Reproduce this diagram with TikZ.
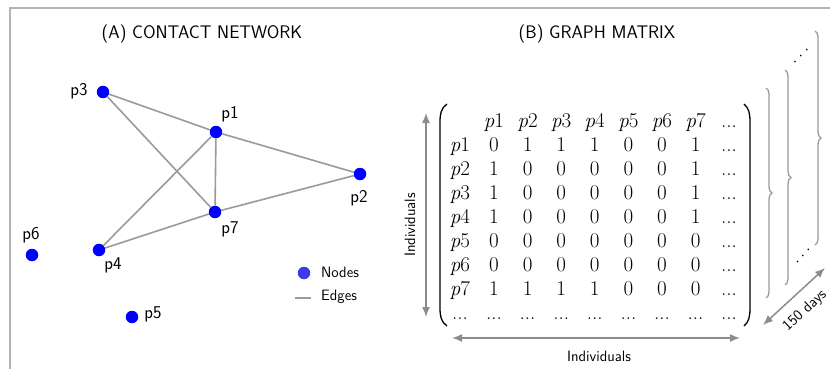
\documentclass[tikz,border=0pt]{standalone}
\usepackage{fontspec}
\usetikzlibrary{arrows.meta,decorations.pathreplacing,calc}
\definecolor{netblue}{HTML}{0000FF}
\definecolor{legblue}{HTML}{3C3CE6}
\definecolor{linkgray}{HTML}{9A9A9A}
\definecolor{framegray}{HTML}{B4B4B4}
\definecolor{arrowgray}{HTML}{8C8C8C}
\definecolor{bracegray}{HTML}{9A9A9A}
\begin{document}
\begin{tikzpicture}[x=1pt,y=-1pt,
  vertex/.style={circle,fill=netblue,inner sep=0pt,minimum size=12.5pt},
  vlabel/.style={font=\sffamily\fontsize{18}{21}\selectfont,inner sep=0pt},
  link/.style={linkgray,line width=1.6pt},
  paneltitle/.style={font=\sffamily\fontsize{18.2}{21}\selectfont,inner sep=0pt},
  smalltext/.style={font=\sffamily\fontsize{15}{18}\selectfont,inner sep=0pt},
  cell/.style={font=\fontsize{21}{25}\selectfont,inner sep=0pt,anchor=base},
  axis/.style={arrowgray,line width=1.5pt,{Latex[length=10pt,width=8pt]}-{Latex[length=10pt,width=8pt]}},
  bigbrace/.style={bracegray,line width=1.3pt,decorate,decoration={brace,amplitude=6pt}},
  paren/.style={black,line width=1.3pt},
  frameline/.style={framegray,line width=1.6pt}]
\useasboundingbox (0,0) rectangle (830,369);

% outer frame
\draw[frameline] (10,369) -- (10,8) -- (830,8);

% panel titles
\node[paneltitle] (titleA) at (202,34) {(A) CONTACT NETWORK};
\node[paneltitle] (titleB) at (597,34) {(B) GRAPH MATRIX};

% ---------- contact network ----------
\node[vertex] (p1) at (216,132) {};
\node[vertex] (p2) at (360,174) {};
\node[vertex] (p3) at (103,92) {};
\node[vertex] (p4) at (99,250) {};
\node[vertex] (p5) at (132,317) {};
\node[vertex] (p6) at (32,255) {};
\node[vertex] (p7) at (215,212) {};

\node[vlabel] (p1-lbl) at ($(p1)+(14,-18)$) {p1};
\node[vlabel] (p2-lbl) at ($(p2)+(-1,24)$) {p2};
\node[vlabel] (p3-lbl) at ($(p3)+(-24,-1)$) {p3};
\node[vlabel] (p4-lbl) at ($(p4)+(14,15)$) {p4};
\node[vlabel] (p5-lbl) at ($(p5)+(21,-3)$) {p5};
\node[vlabel] (p6-lbl) at ($(p6)+(-1,-20)$) {p6};
\node[vlabel] (p7-lbl) at ($(p7)+(15,17)$) {p7};

\draw[link] (p3) -- (p1);
\draw[link] (p3) -- (p7);
\draw[link] (p1) -- (p2);
\draw[link] (p1) -- (p7);
\draw[link] (p1) -- (p4);
\draw[link] (p4) -- (p7);
\draw[link] (p7) -- (p2);

% legend
\node[vertex,fill=legblue] (leg-dot) at (304,273) {};
\node[smalltext,anchor=west] (leg-nodes) at (321,272) {Nodes};
\coordinate (leg-a) at (295,298);
\coordinate (leg-b) at (311,298);
\draw[link] (leg-a) -- (leg-b);
\node[smalltext,anchor=west] (leg-edges) at (321,297) {Edges};

% ---------- graph matrix ----------
% column headers
\foreach \j in {1,...,7} {
  \node[cell] (h-\j) at ({494+33.6*(\j-1)},127) {\textit{p}\j};
}
\node[cell] (h-8) at (729,127) {...};

% rows of the adjacency matrix
\foreach \vals [count=\i] in {{0,1,1,1,0,0,1},{1,0,0,0,0,0,1},{1,0,0,0,0,0,1},{1,0,0,0,0,0,1},{0,0,0,0,0,0,0},{0,0,0,0,0,0,0},{1,1,1,1,0,0,0}} {
  \node[cell] (r-\i) at (460,{127+24*\i}) {\textit{p}\i};
  \foreach \v [count=\j] in \vals {
    \node[cell] (m-\i-\j) at ({494+33.6*(\j-1)},{127+24*\i}) {\v};
  }
  \node[cell] (m-\i-8) at (729,{127+24*\i}) {...};
}

% last row of ellipses
\node[cell] (r-8) at (460,319) {...};
\foreach \j in {1,...,7} {
  \node[cell] (m-8-\j) at ({494+33.6*(\j-1)},319) {...};
}
\node[cell] (m-8-8) at (729,319) {...};

% matrix parentheses
\draw[paren] (447,104) .. controls (441,108) and (440,114) .. (440,122)
  -- (440,308) .. controls (440,316) and (441,322) .. (447,326);
\draw[paren] (744,104) .. controls (749,108) and (750,114) .. (750,122)
  -- (750,308) .. controls (750,316) and (749,322) .. (744,326);

% stacked matrices of the following days
\coordinate (b1-top) at (766,88);
\coordinate (b1-bot) at (766,298);
\coordinate (b2-top) at (785,70);
\coordinate (b2-bot) at (785,285);
\coordinate (b3-top) at (815,31);
\coordinate (b3-bot) at (815,245);
\draw[bigbrace] (b1-top) -- (b1-bot);
\draw[bigbrace] (b2-top) -- (b2-bot);
\draw[bigbrace] (b3-top) -- (b3-bot);

\node[cell,anchor=center,rotate=45] (dots-top) at (801,56) {.\hspace{3pt}.\hspace{3pt}.};
\node[cell,anchor=center,rotate=50] (dots-bot) at (803,256) {.\hspace{3pt}.\hspace{3pt}.};

% axes
\coordinate (rows-a) at (426,113);
\coordinate (rows-b) at (426,317);
\draw[axis] (rows-a) -- (rows-b);
\node[smalltext,rotate=90] (rows-lbl) at (410,225) {Individuals};

\coordinate (cols-a) at (452,338);
\coordinate (cols-b) at (740,338);
\draw[axis] (cols-a) -- (cols-b);
\node[smalltext] (cols-lbl) at (599,356) {Individuals};

\coordinate (days-a) at (763,325);
\coordinate (days-b) at (825,268);
\draw[axis] (days-a) -- (days-b);
\node[smalltext,rotate=43] (days-lbl) at (805,311) {150 days};
\end{tikzpicture}
\end{document}
